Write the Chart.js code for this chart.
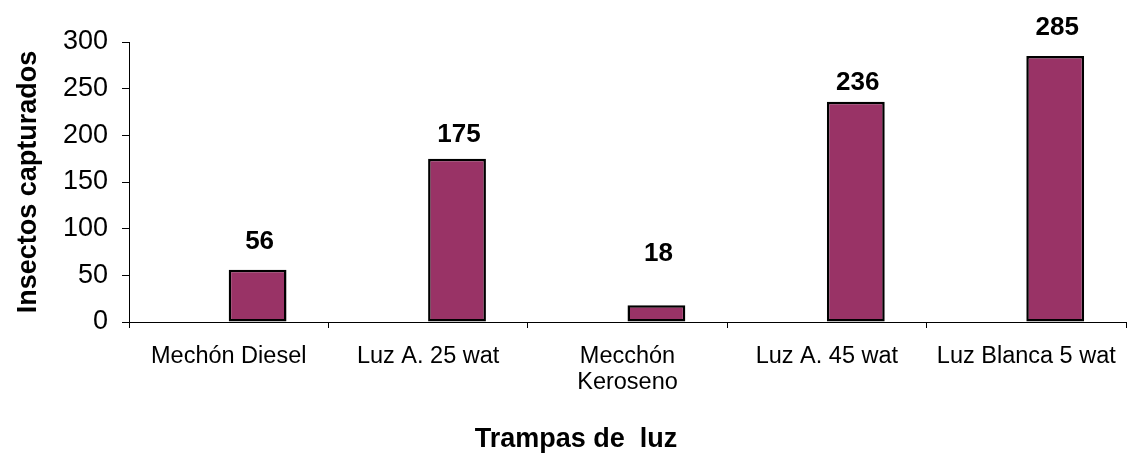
<!DOCTYPE html>
<html>
<head>
<meta charset="utf-8">
<script src="https://cdn.jsdelivr.net/npm/chart.js@4.4.0/dist/chart.umd.min.js"></script>
<style>
  html, body { margin: 0; padding: 0; background: #fff; }
  #wrap { width: 1128px; height: 454px; position: relative; }
</style>
</head>
<body>
<div id="wrap"><canvas id="trampas"></canvas></div>
<script>
// data
const categorias = ["Mechón Diesel", "Luz A. 25 wat", ["Mecchón", "Keroseno"], "Luz A. 45 wat", "Luz Blanca 5 wat"];
const insectos = [56, 175, 18, 236, 285];
const vacia = [null, null, null, null, null]; // empty first series (bars sit right of centre)
const yTicks = [0, 50, 100, 150, 200, 250, 300];

// label lift above bar top, px (hand placed in original)
const labelLift = [28, 24, 51, 19, 28];

const FONT = "'Liberation Sans', Arial, sans-serif";

const valueLabels = {
  id: 'valueLabels',
  afterDatasetsDraw(chart) {
    const ctx = chart.ctx;
    const meta = chart.getDatasetMeta(1);
    ctx.save();
    ctx.font = "bold 26px " + FONT;
    ctx.fillStyle = '#000';
    ctx.textAlign = 'center';
    ctx.textBaseline = 'middle';
    meta.data.forEach((bar, i) => {
      ctx.fillText(String(insectos[i]), bar.x + 2, bar.y - labelLift[i]);
    });
    // x axis title, centred like the original (a bit left of the plot centre)
    ctx.font = "bold 27px " + FONT;
    ctx.fillText('Trampas de  luz', 576, 440);
    ctx.restore();
  }
};

new Chart(document.getElementById("trampas"), {
  type: 'bar',
  data: {
    labels: categorias,
    datasets: [
      { label: '', data: vacia, backgroundColor: '#fff' },
      {
        label: 'Insectos capturados',
        data: insectos,
        backgroundColor: '#993366',
        borderColor: '#000',
        borderWidth: 2.5,
        borderSkipped: false
      }
    ]
  },
  options: {
    responsive: true,
    maintainAspectRatio: false,
    animation: false,
    categoryPercentage: 0.58,
    barPercentage: 1,
    layout: { padding: { top: 42, right: 2, left: 0, bottom: 0 } },
    plugins: {
      legend: { display: false },
      tooltip: { enabled: false }
    },
    scales: {
      x: {
        afterFit(scale) {
          scale.height = 132;
          scale.paddingLeft = 0;
          scale.paddingRight = 0;
        },
        grid: {
          offset: true,
          drawOnChartArea: false,
          color: '#000',
          tickColor: '#000',
          tickLength: 6
        },
        border: { color: '#000', width: 1 },
        ticks: {
          color: '#000',
          font: { family: FONT, size: 23.5, lineHeight: 1.1 },
          maxRotation: 0,
          autoSkip: false,
          padding: 16
        },
        title: { display: false }
      },
      y: {
        min: 0,
        max: 300,
        afterFit(scale) { scale.width = 129; },
        afterBuildTicks(scale) { scale.ticks = yTicks.map(v => ({ value: v })); },
        grid: {
          drawOnChartArea: false,
          color: '#000',
          tickColor: '#000',
          tickLength: 7
        },
        border: { color: '#000', width: 1 },
        ticks: {
          color: '#000',
          font: { family: FONT, size: 27 },
          padding: 14
        },
        title: {
          display: true,
          text: 'Insectos capturados',
          color: '#000',
          font: { family: FONT, size: 27, weight: 'bold' },
          padding: { top: 12, bottom: 0 }
        }
      }
    }
  },
  plugins: [valueLabels]
});
</script>
</body>
</html>
